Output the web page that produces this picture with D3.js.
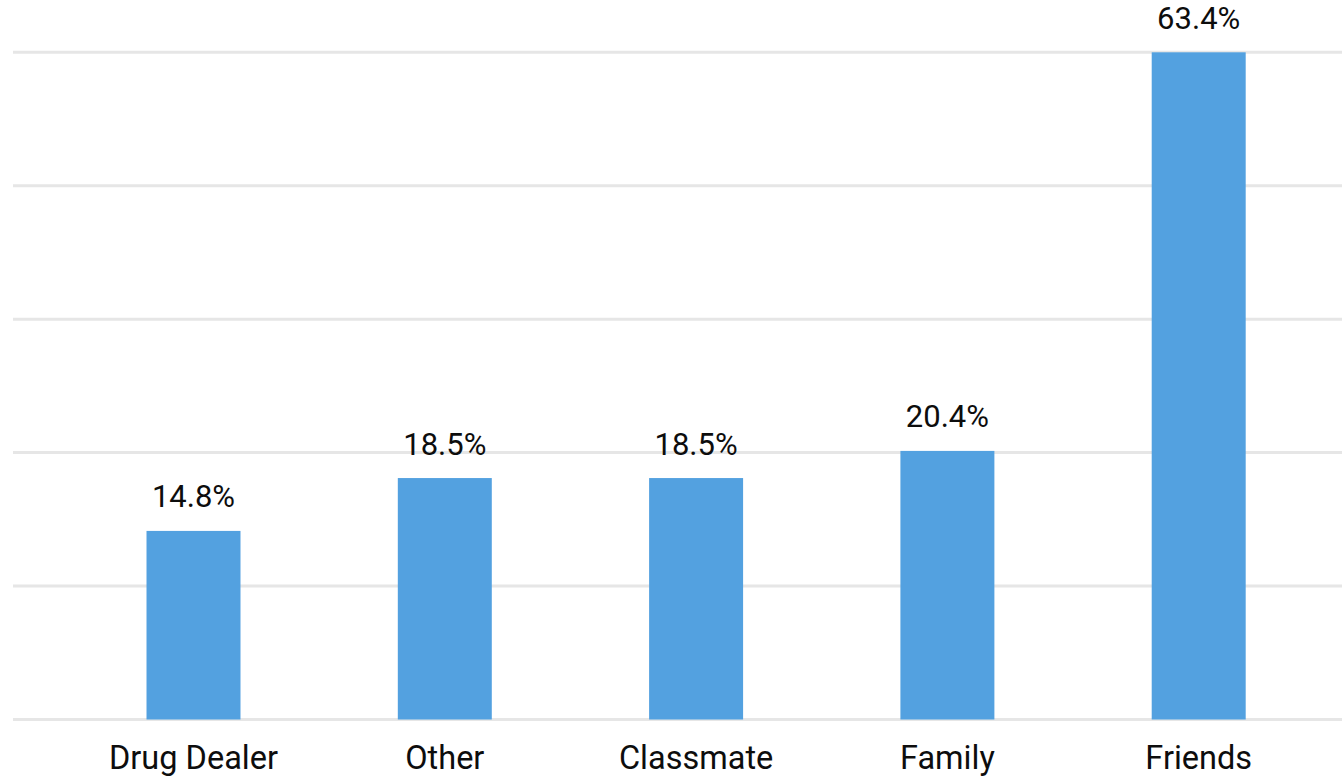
<!DOCTYPE html>
<html><head><meta charset="utf-8">
<script src="https://cdn.jsdelivr.net/npm/d3@7"></script>
<style>html,body{margin:0;padding:0;background:#fff;}svg{display:block;}</style>
</head><body>
<svg id="chart" width="1342" height="777"></svg>
<script>
const categories = ["Drug Dealer", "Other", "Classmate", "Family", "Friends"];
const values = [14.8, 18.5, 18.5, 20.4, 63.4];
const valueLabels = ["14.8%", "18.5%", "18.5%", "20.4%", "63.4%"];
const gridTicks = [1.6, 10.94, 20.28, 29.62, 38.96, 48.3];

const svg = d3.select("#chart");
const W = 1342, H = 777;
const font = "Roboto, 'Noto Sans', sans-serif";

const x = d3.scaleBand().domain(categories).range([67.85, 1324.35])
  .paddingInner(0.626).paddingOuter(0.313);
const y = d3.scaleLinear().domain([1.6, 48.3]).range([719.5, 52.3]).clamp(true);

// gridlines
svg.append("g").selectAll("line").data(gridTicks).join("line")
  .attr("x1", 13).attr("x2", W)
  .attr("y1", d => y(d)).attr("y2", d => y(d))
  .attr("stroke", "#e6e6e6").attr("stroke-width", 3);

// bars
svg.append("g").selectAll("rect").data(values).join("rect")
  .attr("x", (d, i) => x(categories[i]))
  .attr("width", x.bandwidth())
  .attr("y", d => y(d))
  .attr("height", d => y.range()[0] - y(d))
  .attr("fill", "#53a1e0");

// value labels
svg.append("g").selectAll("text").data(values).join("text")
  .attr("x", (d, i) => x(categories[i]) + x.bandwidth() / 2)
  .attr("y", d => y(d) - 23.5)
  .attr("text-anchor", "middle")
  .attr("font-family", font).attr("font-size", 31)
  .attr("fill", "#0d0d0d")
  .text((d, i) => valueLabels[i]);

// x axis labels
const xAxis = d3.axisBottom(x).tickSize(0).tickPadding(0);
const gx = svg.append("g").attr("transform", "translate(0,769)").call(xAxis);
gx.select(".domain").remove();
gx.selectAll("text")
  .attr("font-family", font).attr("font-size", 32.5)
  .attr("fill", "#0d0d0d").attr("dy", 0);
</script>
</body></html>
